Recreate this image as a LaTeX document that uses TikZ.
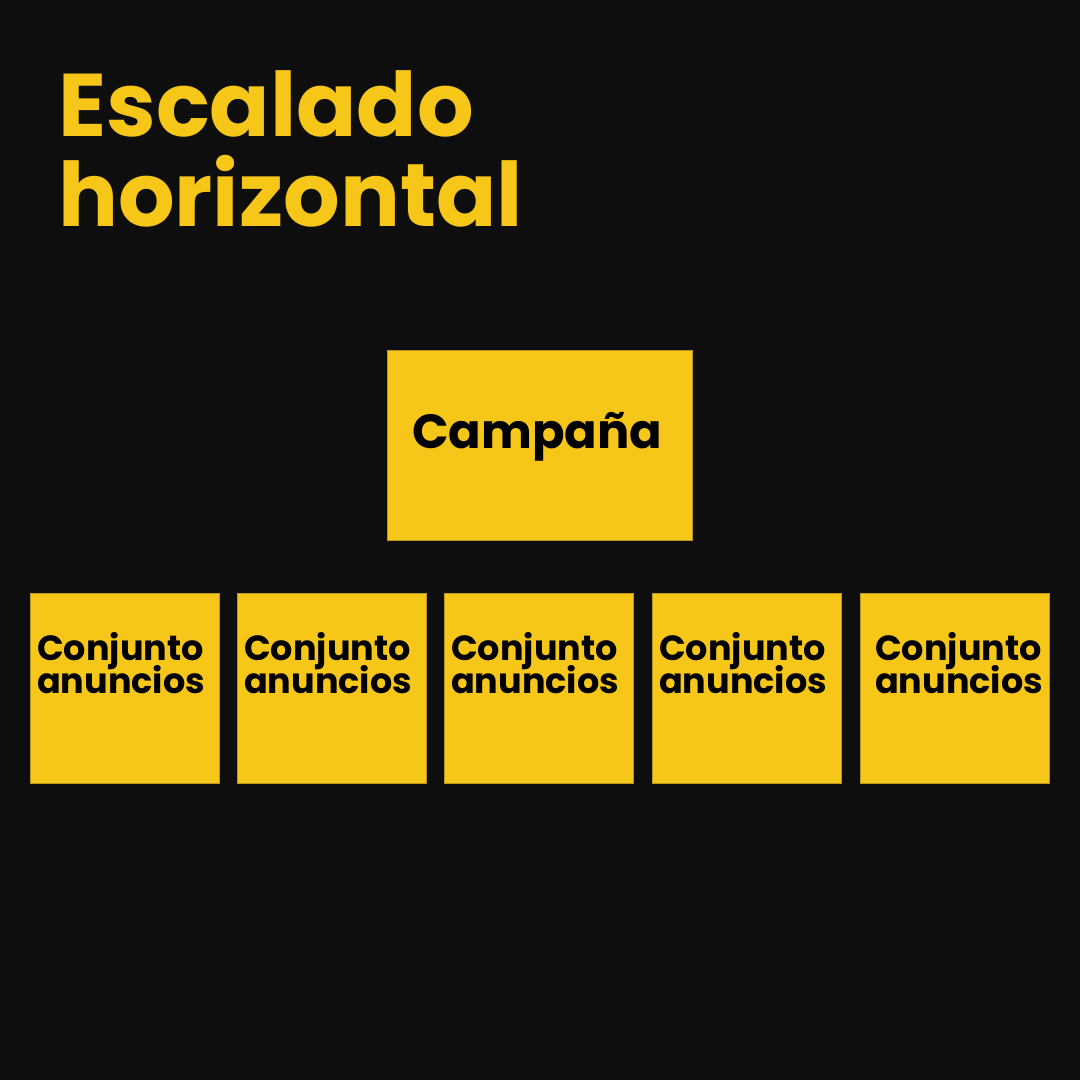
\documentclass[tikz,border=0pt]{standalone}
\usepackage{fontspec}
\setmainfont{Poppins}[BoldFont={* Bold}]
\definecolor{bg}{HTML}{0E0E0E}
\definecolor{gold}{HTML}{F6C619}
\definecolor{goldedge}{HTML}{B8961A}
\begin{document}
\begin{tikzpicture}[x=1pt,y=-1pt,
  box/.style={draw=goldedge,line width=0.8pt,fill=gold},
  lbl/.style={anchor=base west,inner sep=0pt,text=black,font=\bfseries\fontsize{35}{33}\selectfont,align=left},
  ttl/.style={anchor=base west,inner sep=0pt,text=gold,font=\bfseries\fontsize{89}{90}\selectfont}]
\fill[bg] (0,0) rectangle (1080,1080);
\useasboundingbox (0,0) rectangle (1080,1080);
\node[ttl] (t1) at (58,136) {Escalado};
\node[ttl] (t2) at (58,226) {horizontal};
\draw[box] (387,350) rectangle (692,540);
\node[anchor=base west,inner sep=0pt,font=\bfseries\fontsize{48}{50}\selectfont] (camp) at (412,448) {Campaña};
\foreach \x/\tx [count=\i] in {30/37,237/244,444/451,652/659,860/875}{
  \draw[box] (\x,593) rectangle (\x+189,783);
  \node[lbl] (c\i) at (\tx,693) {Conjunto\\[-6pt]anuncios};
}
\end{tikzpicture}
\end{document}
